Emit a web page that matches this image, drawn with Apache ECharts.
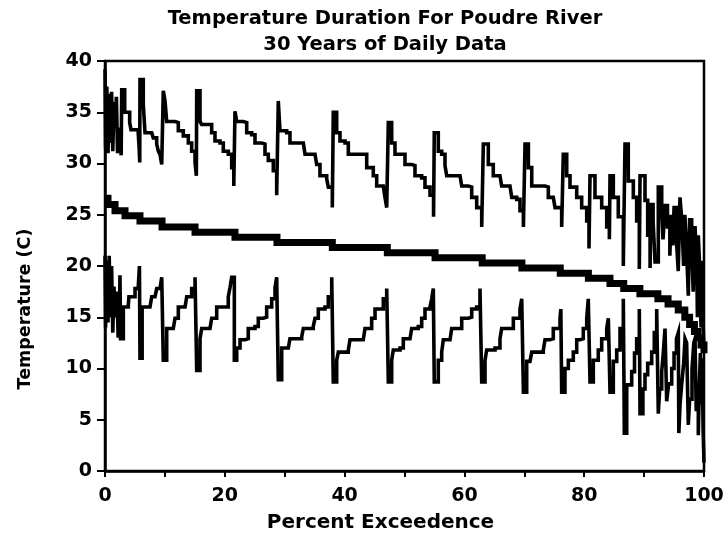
<!DOCTYPE html>
<html>
<head>
<meta charset="utf-8">
<script src="https://cdn.jsdelivr.net/npm/echarts@6/dist/echarts.min.js"></script>
<style>
html,body{margin:0;padding:0;background:#fff;}
#chart{width:727px;height:538px;}
</style>
</head>
<body>
<div id="chart"></div>
<script>
// ---- data (x = percent exceedence, y = temperature C) ----
var titleLine1 = 'Temperature Duration For Poudre River';
var titleLine2 = '30 Years of Daily Data';
var xAxisName = 'Percent Exceedence';
var yAxisName = 'Temperature (C)';
var xTickLabels = [0, 20, 40, 60, 80, 100];
var yTickLabels = [0, 5, 10, 15, 20, 25, 30, 35, 40];

// median-temperature duration curve (value holds until next x)
var medianCurve = [
  [0, 26.6], [0.5, 26.0], [1.67, 25.4], [3.34, 24.9], [5.84, 24.4], [9.52, 23.8],
  [15.03, 23.3], [21.7, 22.8], [28.71, 22.3], [37.95, 21.8], [47.13, 21.3], [55.1, 20.8],
  [62.97, 20.3], [69.6, 19.8], [76.0, 19.3], [80.7, 18.8], [84.3, 18.3], [86.6, 17.8],
  [89.3, 17.3], [92.3, 16.8], [94.0, 16.3], [95.7, 15.7], [96.8, 15.0], [97.6, 14.3],
  [98.4, 13.6], [99.0, 13.0], [99.5, 12.3], [100, 11.5]
];

// daily maximum temperatures (upper sawtooth; value holds until next x)
var maxCurve = [
  [0, 39.2], [0.1, 31.5], [0.3, 37.5], [0.5, 31], [0.7, 36.8], [0.9, 32], [1.1, 37], [1.3, 31.2],
  [1.5, 36], [1.7, 33.5], [1.9, 36.5], [2.1, 31], [2.3, 33.5], [2.5, 32.5], [2.7, 30.8], [2.79, 37.2],
  [3.29, 35], [4.12, 34], [4.34, 33.3], [5.51, 33.3], [5.7, 31.5], [5.8, 30.1], [5.84, 38.2],
  [6.39, 35.8], [6.68, 33], [7.8, 33], [8.06, 32.5], [8.63, 31.9], [8.9, 31.2], [9.18, 30.9], [9.47, 29.9], [9.73, 37.1],
  [10.02, 36.1], [10.3, 34.1], [11.69, 34], [12.24, 33.2], [13.07, 32.7], [13.91, 32.0], [14.47, 31.2], [15.03, 30.1], [15.25, 28.8], [15.31, 37.1],
  [15.86, 34.1], [16.14, 33.8], [17.81, 33.0], [18.36, 32.2], [19.2, 32.0], [19.75, 31.2], [20.58, 30.9], [21.15, 29.6], [21.5, 27.8], [21.7, 35.1],
  [21.99, 34.1], [23.09, 34.0], [23.66, 33.0], [24.49, 32.8], [25.04, 32.0], [26.16, 31.9], [26.71, 30.9], [27.26, 30.3], [28.1, 29.3], [28.66, 26.9], [28.93, 36.1],
  [29.21, 33.2], [30.33, 33.0], [30.88, 32.0], [33.11, 32.0], [33.39, 30.9], [35.06, 30.9], [35.34, 29.9], [35.89, 28.8], [37.01, 28.5], [37.28, 27.7], [37.95, 25.7], [38.11, 35.0],
  [38.68, 33.0], [39.23, 32.2], [40.07, 32.0], [40.62, 30.9], [43.12, 30.9], [43.69, 29.6], [44.79, 28.8], [45.36, 27.8], [46.46, 27.7], [46.74, 26.7], [47.03, 25.7], [47.3, 34.0],
  [47.86, 32.0], [48.41, 30.9], [49.53, 30.9], [50.08, 29.9], [51.2, 29.8], [51.75, 28.8], [52.87, 28.6], [53.42, 27.7], [54.26, 26.9], [54.85, 24.8], [54.97, 33.0],
  [55.64, 31.2], [56.21, 30.9], [56.76, 29.8], [57.05, 28.8], [59.27, 28.8], [59.55, 27.8], [60.65, 27.7], [61.22, 26.7], [62.05, 25.7], [62.89, 23.8], [63.16, 31.9],
  [63.99, 29.9], [64.82, 28.8], [65.94, 28.8], [66.22, 27.8], [67.61, 27.7], [67.9, 26.7], [68.73, 26.5], [69.28, 25.4], [69.85, 23.8], [70.12, 31.9],
  [70.68, 29.6], [71.24, 27.8], [73.46, 27.7], [74.01, 26.7], [74.84, 26.7], [75.13, 25.7], [76.24, 23.8], [76.51, 30.9],
  [77.08, 28.8], [77.63, 27.7], [78.75, 26.7], [79.58, 25.7], [80.42, 24.4], [80.8, 21.7], [80.97, 28.8],
  [81.8, 26.7], [82.92, 25.7], [83.76, 23.8], [84.2, 22.6], [84.31, 28.8],
  [84.86, 26.7], [85.69, 24.8], [86.53, 20.0], [86.81, 31.9],
  [87.36, 28.3], [88.2, 26.7], [88.76, 24.4], [89.2, 19.7], [89.32, 28.8],
  [90.15, 26.4], [90.6, 23.0], [91.0, 19.8], [91.1, 26.0], [91.5, 24.4], [91.82, 20.4], [92.37, 27.7],
  [92.94, 25.1], [93.16, 22.6], [93.49, 25.9], [93.9, 23.8], [94.3, 21.0], [94.5, 25.0], [94.8, 22.0],
  [95.0, 25.7], [95.4, 22.5], [95.7, 19.5], [95.99, 26.7], [96.3, 24.4], [96.6, 20.0], [96.8, 25.0],
  [97.1, 21.5], [97.38, 17.1], [97.6, 24.5], [97.94, 22.0], [98.2, 17.5], [98.5, 23.9], [98.8, 20.0],
  [98.9, 15.0], [99.05, 23.0], [99.3, 19.5], [99.5, 14.0], [99.6, 20.5], [99.8, 15.0], [100, 12]
];

// daily minimum temperatures (lower sawtooth; value holds until next x)
var minCurve = [
  [0, 21], [0.1, 14], [0.3, 20.5], [0.5, 14.5], [0.7, 21], [0.9, 15], [1.1, 20], [1.3, 13.5], [1.5, 18], [1.7, 15],
  [2.0, 17.5], [2.2, 13], [2.4, 15], [2.5, 19.1], [2.6, 12.9], [3.06, 16.0], [3.89, 16.2], [4.0, 17.0], [4.46, 17.0],
  [5.01, 17.8], [5.56, 18.1], [5.75, 20.0], [5.84, 11.0],
  [6.2, 16.0], [7.51, 16.0], [7.8, 17.0], [8.35, 17.0], [8.63, 17.8], [9.18, 17.9], [9.47, 18.9], [9.73, 10.8],
  [10.3, 13.9], [11.4, 13.9], [11.69, 14.9], [12.24, 16.0], [13.36, 16.0], [13.64, 17.0], [14.47, 17.8], [15.03, 18.9], [15.31, 9.8],
  [15.86, 12.9], [16.14, 13.9], [17.53, 13.9], [17.81, 14.9], [18.65, 16.0], [20.03, 16.0], [20.58, 17.0], [20.87, 17.9], [21.15, 18.9], [21.59, 10.8],
  [21.99, 12.0], [22.54, 12.8], [23.37, 12.9], [23.92, 13.9], [25.04, 14.1], [25.59, 14.9], [26.43, 15.0], [26.99, 16.0], [27.83, 16.8], [28.38, 17.9], [28.66, 18.9], [28.93, 8.9],
  [29.5, 12.0], [30.6, 12.1], [30.88, 12.9], [32.84, 13.1], [33.11, 13.9], [34.77, 14.1], [35.06, 14.9], [35.61, 15.8], [36.73, 16.0], [37.28, 17.0], [37.85, 18.9], [38.11, 8.7],
  [38.68, 10.8], [38.95, 11.6], [40.62, 11.8], [40.9, 12.8], [43.12, 12.8], [43.41, 13.9], [44.52, 14.9], [45.08, 15.8], [46.46, 16.8], [47.03, 17.8], [47.3, 8.7],
  [47.86, 10.8], [48.13, 11.8], [49.25, 12.0], [49.8, 12.9], [50.92, 12.9], [51.2, 13.9], [52.3, 14.1], [52.87, 14.9], [53.42, 15.8], [54.26, 16.0], [54.54, 16.8], [54.81, 17.8], [54.97, 8.7],
  [55.64, 10.8], [56.21, 11.6], [56.48, 12.8], [57.6, 12.9], [57.88, 13.9], [58.98, 13.9], [59.55, 14.9], [60.65, 15.0], [61.22, 15.8], [62.05, 16.0], [62.6, 17.8], [62.89, 8.7],
  [63.44, 10.8], [63.72, 11.8], [65.11, 12.0], [65.94, 12.9], [66.22, 13.9], [67.61, 13.9], [68.17, 14.9], [68.73, 14.9], [69.28, 15.8], [69.57, 16.8], [69.85, 7.7],
  [70.4, 10.7], [70.95, 10.8], [71.24, 11.6], [73.17, 11.8], [73.46, 12.8], [74.29, 12.9], [74.84, 13.9], [75.41, 13.9], [75.96, 14.9], [76.1, 15.8], [76.24, 7.7],
  [76.79, 10.0], [77.35, 10.8], [78.18, 11.6], [78.75, 12.8], [79.3, 12.9], [79.85, 13.9], [80.42, 14.9], [80.68, 16.8], [80.97, 8.7],
  [81.52, 10.8], [82.35, 11.8], [82.92, 12.9], [83.76, 13.9], [84.03, 14.9], [84.31, 7.7],
  [84.86, 10.7], [85.43, 11.8], [85.98, 13.9], [86.53, 16.8], [86.7, 3.7],
  [87.1, 8.4], [87.93, 9.7], [88.4, 11.5], [88.76, 12.9], [89.2, 15.8], [89.32, 5.6],
  [89.8, 8.0], [90.15, 9.4], [90.6, 10.5], [91.27, 11.6], [91.7, 13.5], [92.1, 15.8], [92.37, 5.6],
  [92.6, 8.0], [92.94, 9.7], [93.2, 11.5], [93.49, 13.9], [93.77, 6.8], [94.1, 8.5], [94.61, 10.0],
  [95.0, 11.5], [95.4, 12.9], [95.71, 13.5], [95.8, 3.7], [96.0, 6.5], [96.27, 8.4], [96.6, 10.5],
  [96.83, 12.9], [97.1, 12.5], [97.38, 4.5], [97.6, 7.0], [98.0, 10], [98.3, 12.5], [98.5, 12.9],
  [98.7, 6.0], [99.05, 3.5], [99.2, 8.0], [99.4, 11.5], [99.6, 6.5], [99.7, 11], [99.85, 4.0], [100, 0.8]
];

var FONT = '"DejaVu Sans", "Liberation Sans", Arial, sans-serif';
var chart = echarts.init(document.getElementById('chart'), null, {renderer: 'canvas'});
chart.setOption({
  animation: false,
  backgroundColor: '#fff',
  title: {
    text: titleLine1,
    subtext: titleLine2,
    left: 385,
    top: 9,
    textAlign: 'center',
    padding: 0,
    itemGap: 6,
    textStyle: {fontFamily: FONT, fontWeight: 'bold', fontSize: 19.5, color: '#000'},
    subtextStyle: {fontFamily: FONT, fontWeight: 'bold', fontSize: 19.5, color: '#000'}
  },
  grid: {
    left: 105, right: 23, top: 61, bottom: 65,
    show: true, borderColor: '#000', borderWidth: 2.5, backgroundColor: 'transparent'
  },
  xAxis: {
    type: 'value', min: 0, max: 100, interval: 10,
    name: xAxisName, nameLocation: 'middle', nameGap: 42,
    nameTextStyle: {fontFamily: FONT, fontWeight: 'bold', fontSize: 20, color: '#000', padding: [0, 48, 0, 0]},
    axisLine: {show: true, lineStyle: {color: '#000', width: 2.5}},
    axisTick: {show: true, inside: false, length: 6, lineStyle: {color: '#000', width: 2}},
    splitLine: {show: false},
    axisLabel: {
      margin: 16, fontFamily: FONT, fontWeight: 'bold', fontSize: 19, color: '#000',
      formatter: function (v) { return xTickLabels.indexOf(v) >= 0 ? String(v) : ''; }
    }
  },
  yAxis: {
    type: 'value', min: 0, max: 40, interval: 5,
    name: yAxisName, nameLocation: 'middle', nameGap: 71, nameRotate: 90,
    nameTextStyle: {fontFamily: FONT, fontWeight: 'bold', fontSize: 17.5, color: '#000', padding: [0, 86, 0, 0]},
    axisLine: {show: true, lineStyle: {color: '#000', width: 2.5}},
    axisTick: {show: true, inside: false, length: 8, lineStyle: {color: '#000', width: 2}},
    splitLine: {show: false},
    axisLabel: {
      margin: 13, fontFamily: FONT, fontWeight: 'bold', fontSize: 19, color: '#000',
      formatter: function (v) { return yTickLabels.indexOf(v) >= 0 ? String(v) : ''; }
    }
  },
  series: [
    {
      name: 'Maximum', type: 'line', data: maxCurve, step: 'end', showSymbol: false, symbol: 'none',
      lineStyle: {color: '#000', width: 3.6, join: 'miter'}, z: 3
    },
    {
      name: 'Minimum', type: 'line', data: minCurve, step: 'end', showSymbol: false, symbol: 'none',
      lineStyle: {color: '#000', width: 3.6, join: 'miter'}, z: 3
    },
    {
      name: 'Median', type: 'line', data: medianCurve, step: 'end', showSymbol: false, symbol: 'none',
      lineStyle: {color: '#000', width: 7, join: 'miter'}, z: 4
    }
  ]
});
</script>
</body>
</html>
